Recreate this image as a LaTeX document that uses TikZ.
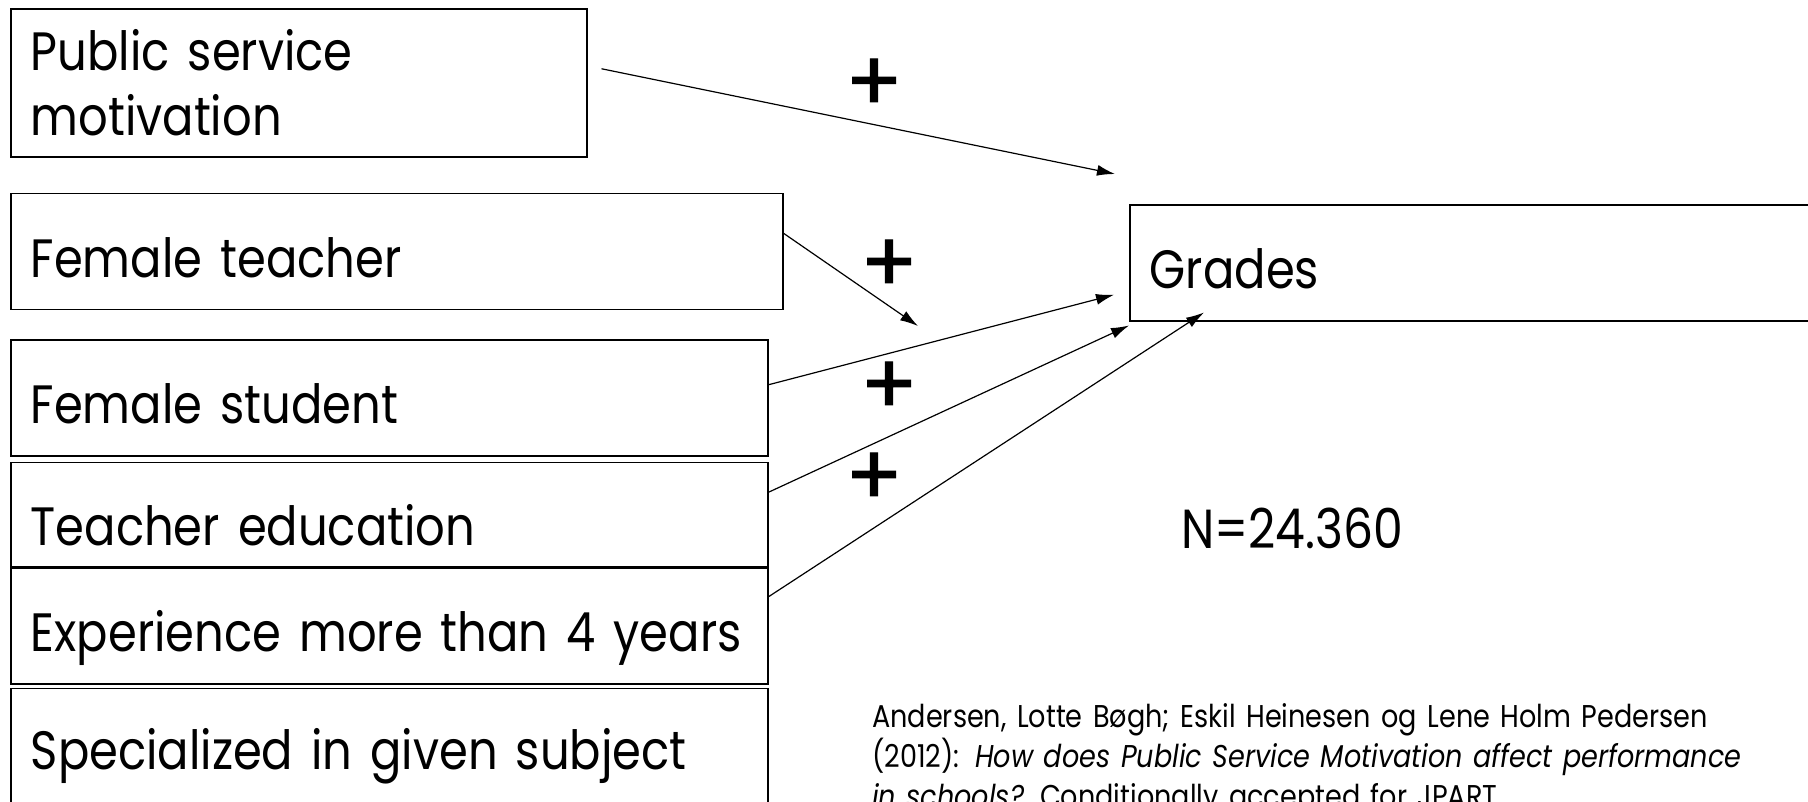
\documentclass[tikz,border=0pt]{standalone}
\usepackage{fontspec}
\setmainfont[FakeStretch=0.86]{Poppins}
\newfontfamily\plusfont[FakeBold=1.5]{Poppins}
\usetikzlibrary{positioning,arrows.meta}

\begin{document}
\begin{tikzpicture}[x=1pt,y=-1pt]
    \tikzstyle{var}=[draw, line width=1.5pt, anchor=north west, inner xsep=20pt, align=left, font=\fontsize{54}{65}\selectfont]
    \tikzstyle{onerow}=[var, text height=52pt, text depth=0pt]
    \tikzstyle{edge}=[-{Latex[length=18pt,width=11pt]}, line width=1.2pt]
    \tikzstyle{plus}=[font=\plusfont\fontsize{84}{84}\selectfont, inner sep=0pt]

    \clip (0,0) rectangle (1808,801);

    \node[var, text width=536pt, minimum height=148pt] (psm) at (10,8) {Public service\\motivation};
    \node[onerow, text width=732pt, minimum height=116pt, below=35pt of psm.south west, anchor=north west] (ft) {Female teacher};
    \node[onerow, text width=717pt, minimum height=116pt, below=29pt of ft.south west, anchor=north west] (fs) {Female student};
    \node[onerow, text width=717pt, text height=62pt, minimum height=104pt, below=5pt of fs.south west, anchor=north west] (te) {Teacher education};
    \node[onerow, text width=717pt, minimum height=116pt, below=0pt of te.south west, anchor=north west] (exp) {\mbox{Experience more than 4 years}};
    \node[onerow, text width=717pt, text depth=20pt, minimum height=130pt, below=3pt of exp.south west, anchor=north west] (spec) {\mbox{Specialized in given subject}};
    \node[onerow, text width=800pt, minimum height=116pt] (grades) at (1129,204) {Grades};

    \coordinate (psmend) at (1115,174);
    \coordinate (ftend) at (918,326);

    \draw[edge] ([xshift=14pt,yshift=14pt]psm.east) -- (psmend);
    \draw[edge] ([yshift=18pt]ft.east) -- (ftend);
    \draw[edge] ([yshift=13pt]fs.east) -- ([xshift=-15pt,yshift=-32pt]grades.west);
    \draw[edge] ([yshift=22pt]te.east) -- ([yshift=-4pt]grades.south west);
    \draw[edge] ([yshift=29pt]exp.east) -- ([xshift=75pt,yshift=9pt]grades.south west);

    \node[plus] (p1) at (874,85) {+};
    \node[plus] (p2) at (889,266) {+};
    \node[plus] (p3) at (889,388) {+};
    \node[plus] (p4) at (874,479) {+};

    \node[anchor=base west, inner sep=0pt, font=\fontsize{55}{60}\selectfont] (n) at (1181,548) {N=24.360};

    \node[anchor=north west, inner sep=0pt, text width=930pt, align=left, font=\fontsize{31.5}{40}\selectfont] (cite) at (872,703)
        {Andersen, Lotte Bøgh; Eskil Heinesen og Lene Holm Pedersen\\
         (2012): \textit{How does Public Service Motivation affect performance}\\
         \textit{in schools?} Conditionally accepted for JPART};
\end{tikzpicture}
\end{document}
